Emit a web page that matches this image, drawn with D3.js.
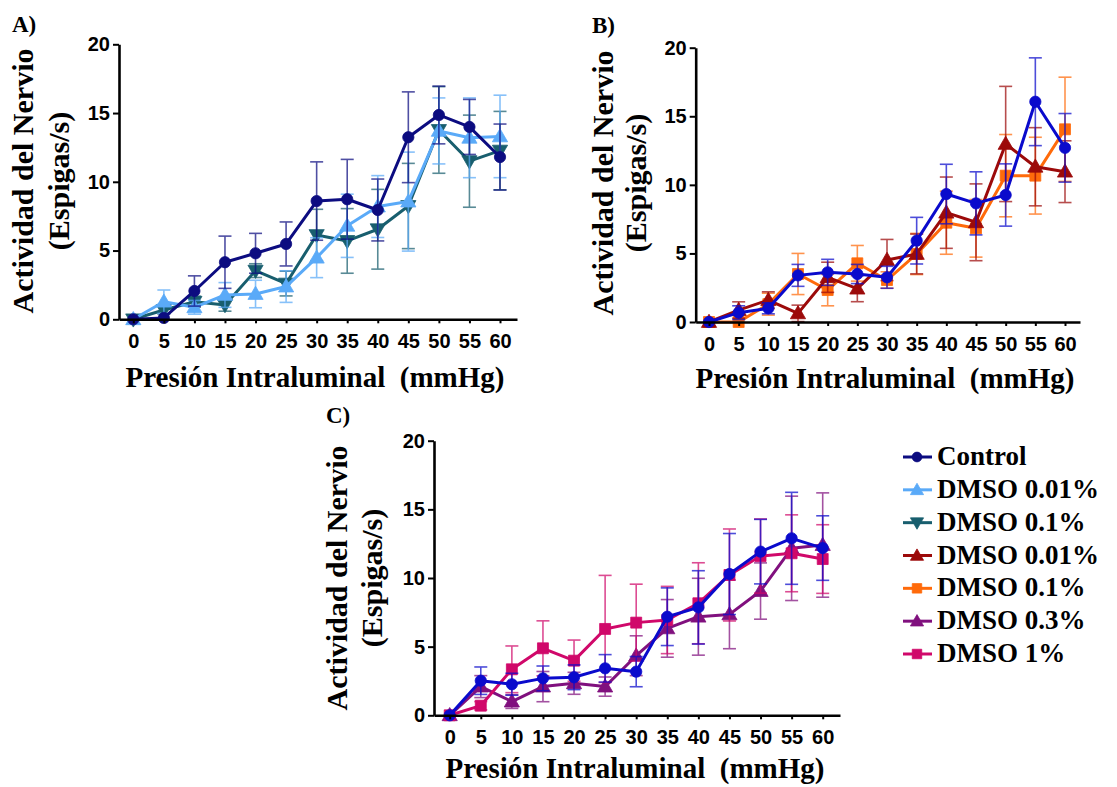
<!DOCTYPE html>
<html>
<head>
<meta charset="utf-8">
<script src="https://cdn.jsdelivr.net/npm/d3@7"></script>
<style>
  html, body { margin: 0; padding: 0; background: #fff; }
  svg { display: block; }
</style>
</head>
<body>
<svg id="chart" width="1117" height="787"></svg>
<script>
// Intraluminal pressure steps (mmHg) shared by all panels
const pressures = [0, 5, 10, 15, 20, 25, 30, 35, 40, 45, 50, 55, 60];
const yTicks = [0, 5, 10, 15, 20];

// Panel A: Control vs DMSO 0.01% and 0.1%
const a_control     = [0, 0.1, 2.06, 4.15, 4.8, 5.48, 8.6, 8.73, 7.95, 13.24, 14.86, 13.99, 11.8];
const a_control_err = [0, 0, 1.1, 1.9, 1.45, 1.6, 2.85, 2.9, 2.25, 3.3, 2.1, 2.0, 2.4];
const a_dmso001     = [0, 1.28, 0.87, 1.77, 1.84, 2.38, 4.48, 6.8, 8.2, 8.56, 13.7, 13.2, 13.3];
const a_dmso001_err = [0, 0.85, 0.5, 0.9, 1.0, 1.15, 1.45, 2.3, 2.25, 3.6, 2.4, 2.9, 3.0];
const a_dmso01      = [0, 0.68, 1.28, 1.04, 3.54, 2.6, 6.13, 5.7, 6.55, 8.24, 13.77, 11.5, 12.27];
const a_dmso01_err  = [0, 0.3, 0.4, 0.45, 0.5, 0.9, 1.87, 2.35, 2.9, 3.1, 3.15, 3.35, 2.85];

// Panel B: Control vs DMSO 0.01% and 0.1%
const b_control     = [0, 0.68, 1.0, 3.4, 3.62, 3.5, 3.26, 5.93, 9.33, 8.65, 9.26, 16.06, 12.7];
const b_control_err = [0, 0.5, 0.4, 0.8, 0.95, 0.7, 0.8, 1.7, 2.17, 2.3, 2.27, 3.2, 2.5];
const b_dmso001     = [0, 0.87, 1.6, 0.63, 3.26, 2.43, 4.52, 4.96, 7.97, 7.27, 12.98, 11.32, 10.96];
const b_dmso001_err = [0, 0.6, 0.6, 0.6, 1.1, 0.95, 1.5, 1.45, 2.6, 2.8, 4.2, 2.85, 2.25];
const b_dmso01      = [0, 0, 1.3, 3.5, 2.33, 4.28, 3.06, 4.96, 7.24, 6.83, 10.67, 10.67, 14.05];
const b_dmso01_err  = [0, 0, 0.8, 1.5, 1.15, 1.3, 0.6, 1.5, 2.3, 2.1, 3.0, 2.8, 3.8];

// Panel C: Control vs DMSO 0.3% and 1%
const c_control     = [0, 2.52, 2.26, 2.69, 2.77, 3.42, 3.18, 7.18, 7.86, 10.29, 11.92, 12.89, 12.18];
const c_control_err = [0, 1.0, 0.8, 0.9, 0.9, 1.0, 1.1, 2.1, 2.67, 2.95, 2.35, 3.35, 2.35];
const c_dmso03      = [0, 2.09, 1.0, 2.09, 2.33, 2.09, 4.34, 6.33, 7.18, 7.35, 9.05, 12.16, 12.4];
const c_dmso03_err  = [0, 0.8, 0.5, 1.1, 0.8, 0.7, 1.45, 2.1, 2.8, 2.5, 2.05, 3.8, 3.8];
const c_dmso1       = [0, 0.7, 3.35, 4.88, 3.98, 6.29, 6.75, 6.94, 8.16, 10.22, 11.6, 11.8, 11.38];
const c_dmso1_err   = [0, 0.3, 1.7, 2.0, 1.5, 3.9, 2.8, 2.45, 2.95, 3.35, 2.7, 2.8, 2.5];

// Legend entries
const legendLabels = ["Control", "DMSO 0.01%", "DMSO 0.1%", "DMSO 0.01%", "DMSO 0.1%", "DMSO 0.3%", "DMSO 1%"];
const legendColors = ["#0c0c80", "#5aaaf8", "#185e6e", "#9c0a0a", "#ff6a0a", "#80107e", "#d0086a"];
const legendShapes = ["circle", "triangle", "triangleDown", "triangle", "square", "triangle", "square"];

const yLabel1 = "Actividad del Nervio";
const yLabel2 = "(Espigas/s)";
const xLabel = "Presión Intraluminal  (mmHg)";

const svg = d3.select("#chart");

const SERIF = "'Liberation Serif', 'Times New Roman', serif";
const SANS = "'Liberation Sans', Arial, sans-serif";

function markerPath(shape, size) {
  if (shape === "circle") return d3.symbol(d3.symbolCircle, size)();
  if (shape === "square") return d3.symbol(d3.symbolSquare, size)();
  return d3.symbol(d3.symbolTriangle, size)();
}

function drawMarker(g, shape, color, cx, cy, scale) {
  const sizes = { circle: 100, square: 120, triangle: 100, triangleDown: 100 };
  const p = g.append("path")
    .attr("d", markerPath(shape, sizes[shape] * scale))
    .attr("fill", color)
    .attr("stroke", color)
    .attr("stroke-width", 0.8);
  let t = `translate(${cx},${cy})`;
  if (shape === "triangle") t += " translate(0,1)";
  if (shape === "triangleDown") t += " translate(0,-1) rotate(180)";
  p.attr("transform", t);
}

function drawPanel(cfg) {
  const g = svg.append("g");
  const pxPer = (cfg.xLastPx - cfg.xFirstPx) / 60;
  const x = d3.scaleLinear()
    .domain([(cfg.axisLeft - cfg.xFirstPx) / pxPer, (cfg.axisRight - cfg.xFirstPx) / pxPer])
    .range([cfg.axisLeft, cfg.axisRight]);
  const y = d3.scaleLinear().domain([0, 20]).range([cfg.y0, cfg.y20]);

  // series: lines, error bars, markers
  cfg.series.forEach(s => {
    const sg = g.append("g");
    const pts = pressures.map((p, i) => ({ p, v: s.values[i], e: s.errors[i] }));
    // error bars
    pts.forEach(d => {
      if (d.e <= 0) return;
      const eg = sg.append("g").attr("stroke", s.color).attr("stroke-width", 1.6).attr("opacity", 0.72);
      eg.append("line").attr("x1", x(d.p)).attr("x2", x(d.p)).attr("y1", y(d.v - d.e)).attr("y2", y(d.v + d.e));
      [d.v - d.e, d.v + d.e].forEach(v => {
        eg.append("line").attr("x1", x(d.p) - 6.5).attr("x2", x(d.p) + 6.5).attr("y1", y(v)).attr("y2", y(v));
      });
    });
    sg.append("path")
      .datum(pts)
      .attr("fill", "none")
      .attr("stroke", s.color)
      .attr("stroke-width", 3)
      .attr("stroke-linejoin", "round")
      .attr("d", d3.line().x(d => x(d.p)).y(d => y(d.v)));
    pts.forEach(d => drawMarker(sg, s.shape, s.color, x(d.p), y(d.v), 1));
  });

  // axes
  const yAxis = g.append("g")
    .attr("transform", `translate(${cfg.axisLeft},0)`)
    .call(d3.axisLeft(y).tickValues(yTicks).tickSize(6).tickPadding(3).tickSizeOuter(0));
  const xAxis = g.append("g")
    .attr("transform", `translate(0,${cfg.y0})`)
    .call(d3.axisBottom(x).tickValues(pressures).tickSize(4).tickPadding(11).tickSizeOuter(0));
  [yAxis, xAxis].forEach(ax => {
    ax.select(".domain").attr("stroke", "#000").attr("stroke-width", 2.6);
    ax.selectAll(".tick line").attr("stroke", "#000").attr("stroke-width", 2);
    ax.selectAll(".tick text")
      .attr("fill", "#000")
      .attr("font-family", SANS)
      .attr("font-weight", "bold")
      .attr("font-size", 20);
  });

  // axis titles
  g.append("text")
    .attr("transform", `translate(${cfg.yl1x},${cfg.ylCy}) rotate(-90)`)
    .attr("text-anchor", "middle")
    .attr("font-family", SERIF).attr("font-weight", "bold").attr("font-size", 30)
    .text(yLabel1);
  g.append("text")
    .attr("transform", `translate(${cfg.yl2x},${cfg.ylCy}) rotate(-90)`)
    .attr("text-anchor", "middle")
    .attr("font-family", SERIF).attr("font-weight", "bold").attr("font-size", 30)
    .text(yLabel2);
  g.append("text")
    .attr("x", cfg.xlCx).attr("y", cfg.xlY)
    .attr("text-anchor", "middle")
    .style("white-space", "pre")
    .attr("font-family", SERIF).attr("font-weight", "bold").attr("font-size", 29)
    .text(xLabel);

  // panel letter
  g.append("text")
    .attr("x", cfg.tagX).attr("y", cfg.tagY)
    .attr("font-family", SERIF).attr("font-weight", "bold").attr("font-size", 23)
    .text(cfg.tag);
}

drawPanel({
  tag: "A)", tagX: 12, tagY: 32,
  axisLeft: 119, axisRight: 517, xFirstPx: 133.3, xLastPx: 500,
  y0: 319.3, y20: 44.3,
  yl1x: 33, yl2x: 69, ylCy: 181, xlCx: 315, xlY: 387,
  series: [
    { values: a_dmso01, errors: a_dmso01_err, color: "#185e6e", shape: "triangleDown" },
    { values: a_dmso001, errors: a_dmso001_err, color: "#5aaaf8", shape: "triangle" },
    { values: a_control, errors: a_control_err, color: "#0c0c80", shape: "circle" }
  ]
});

drawPanel({
  tag: "B)", tagX: 592, tagY: 33,
  axisLeft: 695.7, axisRight: 1080, xFirstPx: 709, xLastPx: 1065,
  y0: 322, y20: 47.7,
  yl1x: 613, yl2x: 646, ylCy: 183, xlCx: 885, xlY: 388,
  series: [
    { values: b_dmso01, errors: b_dmso01_err, color: "#ff6a0a", shape: "square" },
    { values: b_dmso001, errors: b_dmso001_err, color: "#9c0a0a", shape: "triangle" },
    { values: b_control, errors: b_control_err, color: "#0a0acc", shape: "circle" }
  ]
});

drawPanel({
  tag: "C)", tagX: 326, tagY: 423,
  axisLeft: 434, axisRight: 840, xFirstPx: 449.7, xLastPx: 822.7,
  y0: 715.3, y20: 440.7,
  yl1x: 347, yl2x: 382, ylCy: 578, xlCx: 635, xlY: 778,
  series: [
    { values: c_dmso03, errors: c_dmso03_err, color: "#80107e", shape: "triangle" },
    { values: c_dmso1, errors: c_dmso1_err, color: "#d0086a", shape: "square" },
    { values: c_control, errors: c_control_err, color: "#0a0acc", shape: "circle" }
  ]
});

// legend
const legend = svg.append("g");
const legendY = d3.scalePoint().domain(d3.range(legendLabels.length)).range([457, 654]);
legendLabels.forEach((lab, i) => {
  const cy = legendY(i);
  legend.append("line")
    .attr("x1", 903).attr("x2", 932).attr("y1", cy).attr("y2", cy)
    .attr("stroke", legendColors[i]).attr("stroke-width", 3);
  drawMarker(legend, legendShapes[i], legendColors[i], 917, cy, 0.75);
  legend.append("text")
    .attr("x", 937).attr("y", cy + 8)
    .attr("font-family", SERIF).attr("font-weight", "bold").attr("font-size", 27)
    .text(lab);
});
</script>
</body>
</html>
